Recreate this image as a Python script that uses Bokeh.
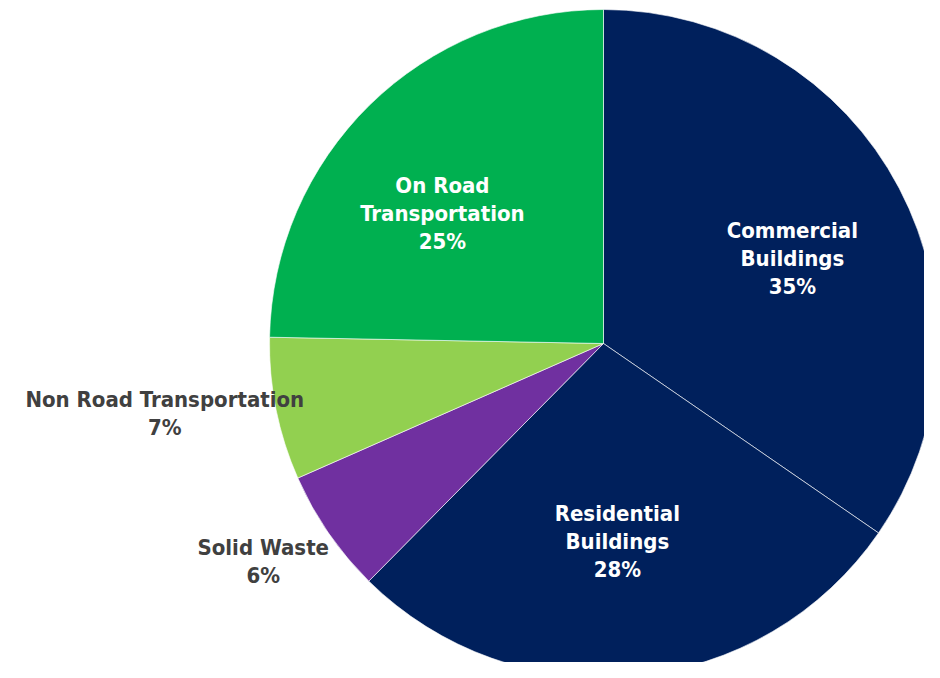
import math
from bokeh.plotting import figure
from bokeh.models import Range1d, ColumnDataSource
from bokeh.core.properties import value
from bokeh.embed import file_html
from bokeh.resources import INLINE

categories = ["Commercial\nBuildings", "Residential\nBuildings", "Solid Waste",
              "Non Road Transportation", "On Road\nTransportation"]
shares = [34.6, 27.8, 6.0, 6.9, 24.7]
pct_labels = ["35%", "28%", "6%", "7%", "25%"]
colors = ["#00205C", "#00205C", "#7030A0", "#92D050", "#00B050"]
inside = [True, True, False, False, True]

W, H = 924, 662
cx, cy, R = 603, -343, 334
label_rf = [0.62, 0.594, 1.21, 1.33, 0.62]
label_da = [-3.5, -1.4, -1.9, -2.3, 6.6]

total = sum(shares)
starts, ends, lx, ly, texts, tcol = [], [], [], [], [], []
cum = 0.0
for i, s in enumerate(shares):
    a0 = math.pi / 2 - 2 * math.pi * cum / total
    cum += s
    a1 = math.pi / 2 - 2 * math.pi * cum / total
    starts.append(a0)
    ends.append(a1)
    mid = (a0 + a1) / 2 + math.radians(label_da[i])
    lx.append(cx + label_rf[i] * R * math.cos(mid))
    ly.append(cy + label_rf[i] * R * math.sin(mid))
    texts.append(categories[i] + "\n" + pct_labels[i])
    tcol.append("#FFFFFF" if inside[i] else "#404040")

src = ColumnDataSource(dict(start=starts, end=ends, color=colors))
lsrc = ColumnDataSource(dict(x=lx, y=ly, text=texts, color=tcol))

p = figure(width=W, height=H, output_backend="svg", toolbar_location=None,
           x_range=Range1d(0, W), y_range=Range1d(-H, 0),
           min_border=0, outline_line_color=None)
p.axis.visible = False
p.grid.visible = False
p.background_fill_color = "white"
p.border_fill_color = "white"

p.wedge(x=cx, y=cy, radius=R, start_angle="start", end_angle="end",
        direction="clock", fill_color="color", line_color="white",
        line_width=1, line_alpha=0.6, source=src)

p.text(x="x", y="y", text="text", source=lsrc, text_color="color",
       text_align="center", text_baseline="middle",
       text_font=value("DejaVu Sans Condensed"), text_font_style="bold",
       text_font_size="22px", text_line_height=1.12)

open("out.html", "w").write(file_html(p, INLINE))
